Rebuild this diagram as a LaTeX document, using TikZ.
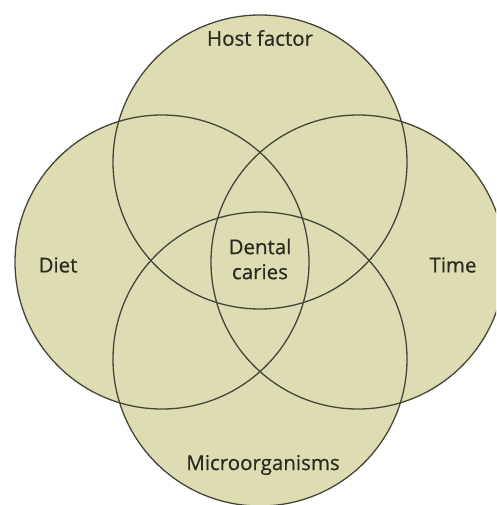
\documentclass[tikz,border=0pt]{standalone}
\usepackage{fontspec}
\setmainfont{Open Sans}
\newfontfamily\lblfont[FakeBold=0.5]{Open Sans}
\definecolor{vfill}{HTML}{DDDCB2}
\definecolor{vline}{HTML}{45453A}
\definecolor{vtext}{HTML}{2A2A20}
\begin{document}
\begin{tikzpicture}[x=1pt,y=-1pt,
  vcirc/.style={draw=vline,line width=1.3pt},
  lbl/.style={text=vtext,font=\lblfont\fontsize{20.5}{25}\selectfont,align=center,inner sep=0pt}]
\useasboundingbox (0,0) rectangle (496,505);
\clip (0,0) rectangle (496,505);
\coordinate (ct) at (260,162);
\coordinate (cb) at (260,359);
\coordinate (cl) at (162,262);
\coordinate (cr) at (358,262);
\foreach \c in {ct,cb,cl,cr} \fill[vfill] (\c) circle[radius=147];
\foreach \c in {ct,cb,cl,cr} \draw[vcirc] (\c) circle[radius=147];
\node[lbl] (host) at (260,38) {Host factor};
\node[lbl] (diet) at (58,265) {Diet};
\node[lbl] (time) at (453,265) {Time};
\node[lbl] (micro) at (263,465) {Microorganisms};
\node[lbl] (dental) at (260,259) {Dental\\caries};
\end{tikzpicture}
\end{document}
